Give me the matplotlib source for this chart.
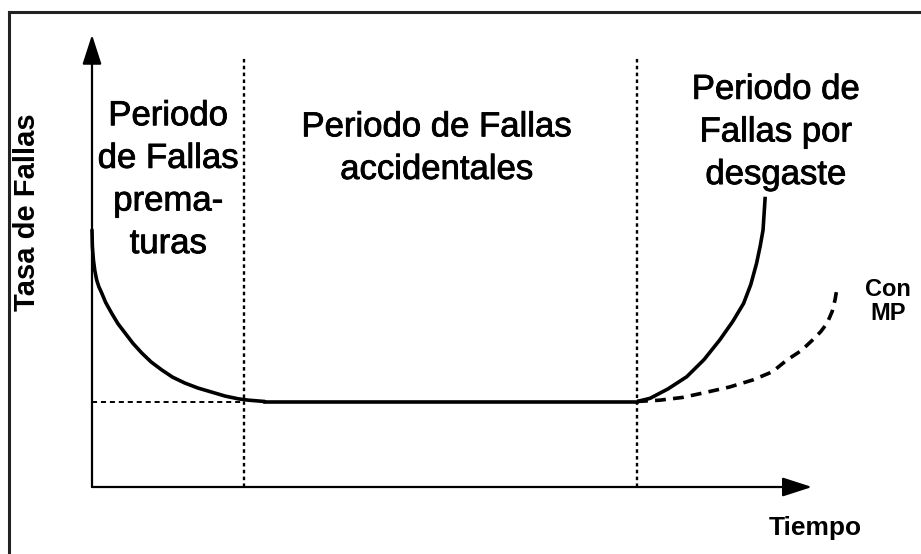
import matplotlib
matplotlib.use("Agg")
import matplotlib.pyplot as plt
from matplotlib.lines import Line2D
import matplotlib.patheffects as pe

# ---- data ----
# early failures (decreasing)
t_early = [0.0, 0.05, 0.2, 0.4, 0.65, 0.95, 1.35, 1.9, 2.7, 3.6, 4.6, 5.7, 6.9, 8.2,
           9.7, 11.2, 12.9, 14.7, 16.6, 18.5, 20.3, 21.7, 24.0]
r_early = [57.1, 53.5, 50.4, 48.0, 46.0, 44.5, 43.1, 41.0, 38.7, 36.3, 34.2, 31.9, 29.8, 27.8,
           26.0, 24.4, 23.1, 22.0, 21.1, 20.2, 19.6, 19.3, 19.0]
# random failures (flat)
t_flat = [24.0, 75.7]
r_flat = [19.0, 19.0]
# wear-out failures (increasing), without preventive maintenance
t_wear = [75.7, 77.5, 80.0, 82.6, 85.0, 87.2, 89.0, 90.5, 91.5, 92.3, 92.8, 93.2, 93.5]
r_wear = [19.0, 19.7, 21.8, 24.5, 28.3, 32.7, 36.8, 40.8, 45.0, 49.7, 53.5, 57.1, 64.5]
# with preventive maintenance (dashed)
t_mp = [75.7, 78.9, 82.0, 84.9, 88.5, 91.8, 94.5, 96.5, 98.5, 100.1, 101.2, 102.1, 102.8, 103.2, 103.5]
r_mp = [19.0, 19.3, 19.9, 20.9, 22.2, 23.8, 25.6, 28.2, 30.3, 32.7, 34.5, 36.4, 39.0, 41.6, 44.4]

boundaries = [21.1, 75.7]
baseline = 19.0
axis_max_t = 100
axis_max_r = 100.5
boundary_top = 95.6

labels = ["Periodo\nde Fallas\nprema-\nturas",
          "Periodo de Fallas\naccidentales",
          "Periodo de\nFallas por\ndesgaste"]
label_pos = [(10.6, 68.3), (47.9, 75.3), (95.0, 78.9)]
mp_label = "Con\nMP"
xlabel = "Tiempo"
ylabel = "Tasa de Fallas"

plt.rcParams['font.family'] = ['Liberation Sans', 'DejaVu Sans']

fig = plt.figure(figsize=(9.21, 5.54), dpi=100)
ax = fig.add_axes([0, 0, 1, 1])
ax.set_xlim(-92 / 7.2, (921 - 92) / 7.2)
ax.set_ylim((487 - 554) / 4.5, 487 / 4.5)
ax.axis('off')

# frame (left and top borders)
fig.add_artist(Line2D([0.0098, 0.0098], [0.0, 0.979], transform=fig.transFigure,
                      color='#222222', lw=2.2))
fig.add_artist(Line2D([0.0098, 1.0], [0.979, 0.979], transform=fig.transFigure,
                      color='#222222', lw=2.2))

# axes arrows
arrow = dict(arrowstyle='-|>,head_length=1.3,head_width=0.42', lw=1.6, color='black',
             shrinkA=0, shrinkB=0, mutation_scale=14)
ax.annotate('', xy=(0, axis_max_r), xytext=(0, 0), arrowprops=arrow)
ax.annotate('', xy=(axis_max_t, 0), xytext=(0, 0), arrowprops=arrow)

# boundaries
for b in boundaries:
    ax.plot([b, b], [0, boundary_top], color='black', lw=1.7, linestyle=(0, (1.5, 1.4)))
ax.plot([0, boundaries[0]], [baseline, baseline], color='black', lw=1.4,
        linestyle=(0, (2.6, 2.0)))

# curves
ax.plot(t_early, r_early, color='black', lw=2.6, solid_capstyle='round', solid_joinstyle='round')
ax.plot(t_flat, r_flat, color='black', lw=2.6)
ax.plot(t_wear, r_wear, color='black', lw=2.6, solid_capstyle='butt', solid_joinstyle='round')
ax.plot(t_mp, r_mp, color='black', lw=2.6, linestyle=(0, (3.0, 2.0)))

# texts
heavy = [pe.withStroke(linewidth=0.6, foreground='black')]
for txt, (x, y) in zip(labels, label_pos):
    ax.text(x, y, txt, ha='center', va='center', fontsize=25, linespacing=1.37,
            path_effects=heavy)
ax.text(110.6, 41.2, mp_label, ha='center', va='center', fontsize=17, fontweight='bold',
        linespacing=1.08)
ax.text(100.5, -9.1, xlabel, ha='center', va='center', fontsize=19, fontweight='bold')
ax.text(-9.0, 61, ylabel, ha='center', va='center', rotation=90, fontsize=21,
        fontweight='bold')

fig.savefig('out.png', dpi=100)
